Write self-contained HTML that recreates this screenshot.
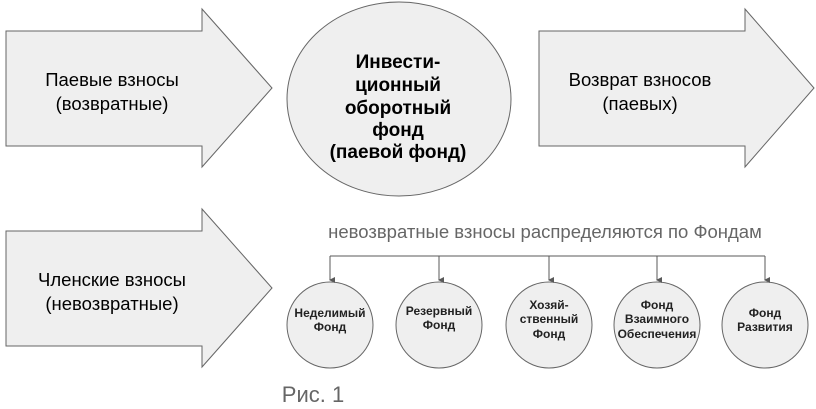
<!DOCTYPE html>
<html><head><meta charset="utf-8"><style>
html,body{margin:0;padding:0;background:#fff;}
svg{display:block;}
text{font-family:"Liberation Sans","DejaVu Sans",sans-serif;}
</style></head><body>
<svg width="816" height="409" viewBox="0 0 816 409" xmlns="http://www.w3.org/2000/svg">
<defs><marker id="a" markerWidth="6" markerHeight="6" refX="3" refY="5" orient="auto" markerUnits="userSpaceOnUse"><path d="M0,0 L6,0 L3,6 z" fill="#595959"/></marker></defs>
<g fill="#efefef" stroke="#666" stroke-width="1">
<polygon points="6,31 202,31 202,9 272,88 202,167 202,146 6,146"/>
<polygon points="539,31 745,31 745,9 814,88 745,167 745,146 539,146"/>
<polygon points="6,231 202,231 202,209 272,288 202,367 202,346 6,346"/>
<ellipse cx="399" cy="99" rx="112" ry="97"/>
<circle cx="330" cy="325" r="43"/>
<circle cx="439" cy="325" r="43"/>
<circle cx="549" cy="325" r="43"/>
<circle cx="657" cy="325" r="43"/>
<circle cx="765" cy="325" r="43"/>
</g>
<g stroke="#595959" stroke-width="1" fill="none">
<line x1="330" y1="256" x2="765" y2="256"/>
<line x1="330" y1="256" x2="330" y2="280" marker-end="url(#a)"/>
<line x1="439" y1="256" x2="439" y2="280" marker-end="url(#a)"/>
<line x1="549" y1="256" x2="549" y2="280" marker-end="url(#a)"/>
<line x1="657" y1="256" x2="657" y2="280" marker-end="url(#a)"/>
<line x1="765" y1="256" x2="765" y2="280" marker-end="url(#a)"/>
</g>
<g font-size="18.5" fill="#000" text-anchor="middle">
<text x="112" y="86">Паевые взносы</text>
<text x="112" y="110">(возвратные)</text>
<text x="640" y="86">Возврат взносов</text>
<text x="640" y="110">(паевых)</text>
<text x="112" y="286">Членские взносы</text>
<text x="112" y="310">(невозвратные)</text>
</g>
<g font-size="19" font-weight="bold" fill="#000" text-anchor="middle">
<text x="398" y="68">Инвести-</text>
<text x="398" y="91">ционный</text>
<text x="398" y="114">оборотный</text>
<text x="398" y="136">фонд</text>
<text x="398" y="158">(паевой фонд)</text>
</g>
<text x="545" y="238" font-size="18.5" fill="#666" text-anchor="middle">невозвратные взносы распределяются по Фондам</text>
<g font-size="12" font-weight="bold" fill="#222" text-anchor="middle">
<text x="330" y="317">Неделимый</text>
<text x="330" y="331">Фонд</text>
<text x="439" y="315">Резервный</text>
<text x="439" y="329">Фонд</text>
<text x="549" y="309">Хозяй-</text>
<text x="549" y="323">ственный</text>
<text x="549" y="338">Фонд</text>
<text x="657" y="309">Фонд</text>
<text x="657" y="323">Взаимного</text>
<text x="657" y="338">Обеспечения</text>
<text x="765" y="317">Фонд</text>
<text x="765" y="331">Развития</text>
</g>
<text x="313" y="402" font-size="22" fill="#666" text-anchor="middle">Рис. 1</text>
</svg>
</body></html>
